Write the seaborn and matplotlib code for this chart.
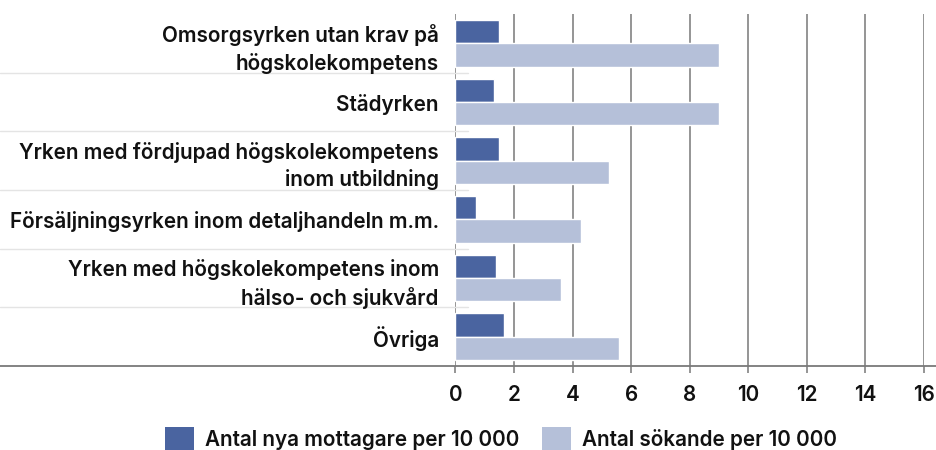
import matplotlib
matplotlib.use("Agg")
import matplotlib.pyplot as plt
import seaborn as sns
import pandas as pd
from matplotlib.patches import Patch

categories = [
    "Omsorgsyrken utan krav på\nhögskolekompetens",
    "Städyrken",
    "Yrken med fördjupad högskolekompetens\ninom utbildning",
    "Försäljningsyrken inom detaljhandeln m.m.",
    "Yrken med högskolekompetens inom\nhälso- och sjukvård",
    "Övriga",
]
series_names = ["Antal nya mottagare per 10 000", "Antal sökande per 10 000"]
nya_mottagare = [1.5, 1.3, 1.5, 0.7, 1.4, 1.65]
sokande = [9.0, 9.0, 5.25, 4.3, 3.6, 5.6]
x_ticks = [0, 2, 4, 6, 8, 10, 12, 14, 16]

colors = ["#4a64a0", "#b5c0d9"]

df = pd.DataFrame({
    "kategori": categories * 2,
    "serie": [series_names[0]] * len(categories) + [series_names[1]] * len(categories),
    "värde": nya_mottagare + sokande,
})

sns.set_theme(style="white")
plt.rcParams["font.family"] = ["Inter", "DejaVu Sans"]
plt.rcParams["font.weight"] = 600

W, H = 937, 450
fig = plt.figure(figsize=(W / 100, H / 100), dpi=100)
x0, x1, ytop, ybot = 455.5, 924, 14, 366
ax = fig.add_axes([x0 / W, 1 - ybot / H, (x1 - x0) / W, (ybot - ytop) / H])

sns.barplot(data=df, y="kategori", x="värde", hue="serie", order=categories,
            hue_order=series_names, palette=colors, orient="h", width=0.8,
            edgecolor="white", linewidth=1, saturation=1, ax=ax, legend=False)

ax.set_xlim(0, 16)
ax.set_ylim(len(categories) - 0.5, -0.5)
ax.set_xticks(x_ticks)
ax.set_xticklabels([str(t) for t in x_ticks])
ax.set_xlabel("")
ax.set_ylabel("")
for s in ["top", "right", "bottom", "left"]:
    ax.spines[s].set_visible(False)

grid_c = "#8c8c8c"
for t in x_ticks:
    ax.axvline(t, color=grid_c, lw=1.3, zorder=0)
ax.set_axisbelow(True)

span = x1 - x0
ax.axhline(len(categories) - 0.5, xmin=-x0 / span, xmax=(W - x0) / span,
           color="#7a7a7a", lw=1.3, clip_on=False, zorder=3)
for i in range(len(categories) - 1):
    ax.axhline(i + 0.5, xmin=-x0 / span, xmax=(468 - x0) / span,
               color="#e4e4e4", lw=1.0, clip_on=False, zorder=0.5)

fs = 14.9
ax.tick_params(axis="x", length=5, width=1.3, color=grid_c, direction="out",
               pad=9, labelsize=fs, labelcolor="#111111", bottom=True)
ax.tick_params(axis="y", length=0, pad=12, labelsize=fs, labelcolor="#111111")
for lab in ax.get_yticklabels() + ax.get_xticklabels():
    lab.set_fontweight(600)
for lab in ax.get_yticklabels():
    lab.set_horizontalalignment("right")
    lab.set_multialignment("right")
    lab.set_linespacing(1.4)

handles = [Patch(facecolor=c, edgecolor="none") for c in colors]
fig.legend(handles, series_names, loc="center", bbox_to_anchor=(501 / W, 1 - 439 / H),
           ncol=2, frameon=False, prop={"size": fs, "weight": 600},
           handlelength=1.4, handleheight=1.4,
           handletextpad=0.55, columnspacing=1.1, labelcolor="#111111")

fig.savefig("out.png", dpi=100)
